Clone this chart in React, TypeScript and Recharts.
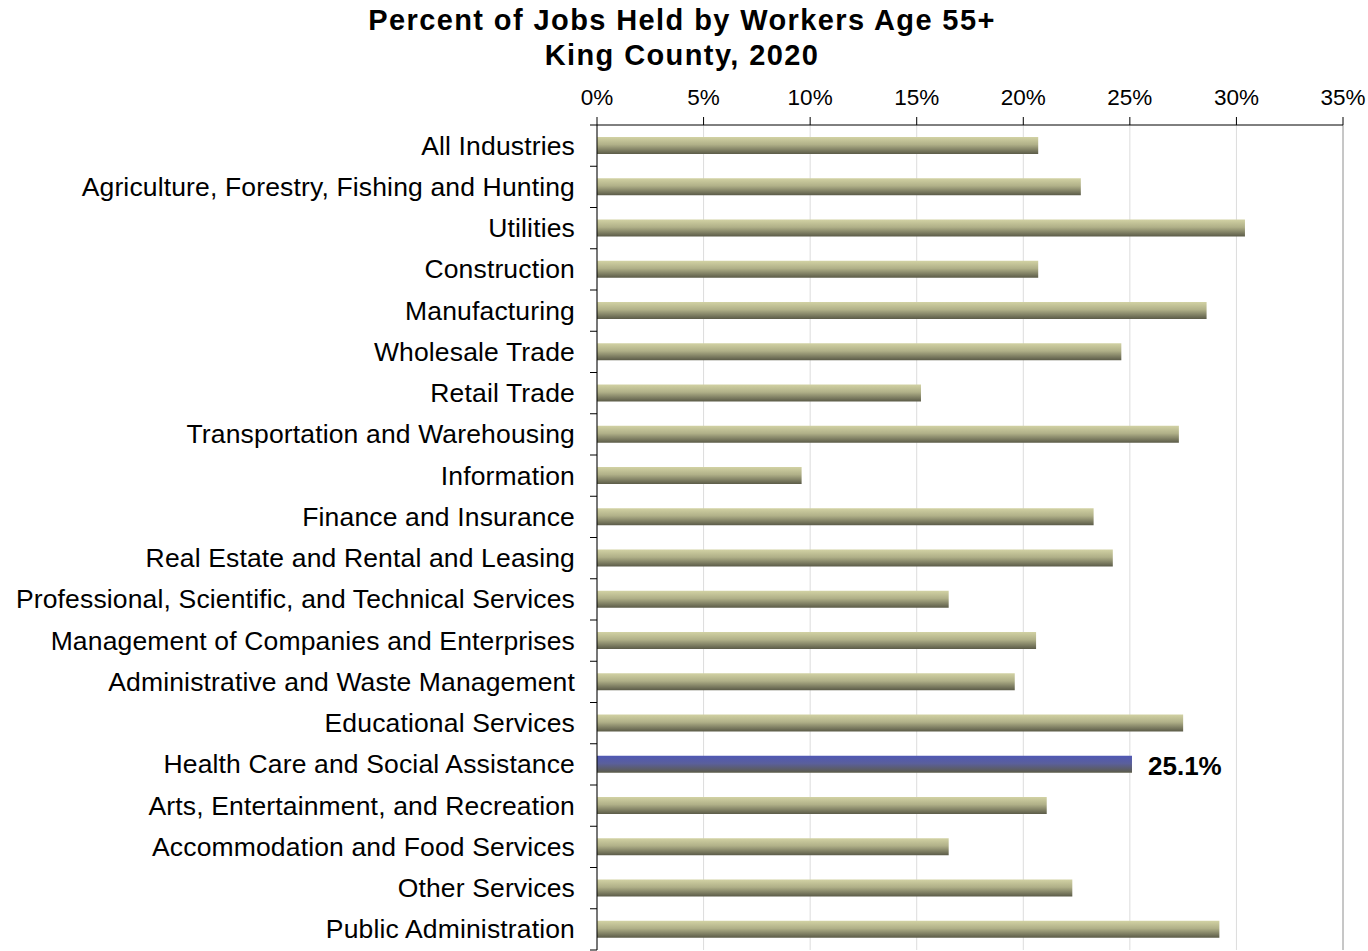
import { Bar, BarChart, CartesianGrid, Cell, LabelList, ReferenceLine, XAxis, YAxis } from "recharts";

const industries = [
  "All Industries",
  "Agriculture, Forestry, Fishing and Hunting",
  "Utilities",
  "Construction",
  "Manufacturing",
  "Wholesale Trade",
  "Retail Trade",
  "Transportation and Warehousing",
  "Information",
  "Finance and Insurance",
  "Real Estate and Rental and Leasing",
  "Professional, Scientific, and Technical Services",
  "Management of Companies and Enterprises",
  "Administrative and Waste Management",
  "Educational Services",
  "Health Care and Social Assistance",
  "Arts, Entertainment, and Recreation",
  "Accommodation and Food Services",
  "Other Services",
  "Public Administration",
];

const pctAge55 = [
  20.7, 22.7, 30.4, 20.7, 28.6, 24.6, 15.2, 27.3, 9.6, 23.3, 24.2, 16.5, 20.6, 19.6, 27.5, 25.1,
  21.1, 16.5, 22.3, 29.2,
];

const highlighted = "Health Care and Social Assistance";
const xTicks = [0, 5, 10, 15, 20, 25, 30, 35];

const data = industries.map((name, i) => ({ name, value: pctAge55[i] }));

const FONT = "'Liberation Sans', Arial, sans-serif";
const AXIS_X = 597;
const BAND = 825 / industries.length;

function CategoryTick(props: any) {
  const { y, payload } = props;
  return (
    <g>
      <line x1={AXIS_X - 7} x2={AXIS_X} y1={y + BAND / 2} y2={y + BAND / 2} stroke="#000" />
      {payload.index === 0 && (
        <line x1={AXIS_X - 7} x2={AXIS_X} y1={y - BAND / 2} y2={y - BAND / 2} stroke="#000" />
      )}
      <text
        x={AXIS_X - 22}
        y={y + 9}
        textAnchor="end"
        fontSize={26.5}
        letterSpacing={0.15}
        fill="#000"
        fontFamily={FONT}
      >
        {payload.value}
      </text>
    </g>
  );
}

function ValueLabel(props: any) {
  const { x, y, width, height, index } = props;
  if (industries[index] !== highlighted) return null;
  return (
    <text
      x={x + width + 16}
      y={y + height / 2 + 11}
      fontSize={26}
      fontWeight="bold"
      fill="#000"
      fontFamily={FONT}
    >
      {pctAge55[index].toFixed(1)}%
    </text>
  );
}

export default function App() {
  return (
    <div style={{ position: "absolute", left: 0, top: 0, width: 1368, height: 951, background: "#fff" }}>
      <svg width={1368} height={80} style={{ position: "absolute", left: 0, top: 0 }}>
        <text x={682} y={30} textAnchor="middle" fontSize={29} fontWeight="bold" letterSpacing={1.4} fontFamily={FONT}>
          Percent of Jobs Held by Workers Age 55+
        </text>
        <text x={682} y={65} textAnchor="middle" fontSize={29} fontWeight="bold" letterSpacing={1.4} fontFamily={FONT}>
          King County, 2020
        </text>
      </svg>
      <BarChart
        width={1368}
        height={951}
        data={data}
        layout="vertical"
        margin={{ top: 85, right: 25, left: 0, bottom: 1 }}
        style={{ position: "absolute", left: 0, top: 0 }}
      >
        <defs>
          <linearGradient id="oliveBar" x1="0" y1="0" x2="0" y2="1">
            <stop offset="0%" stopColor="#d2d2a4" />
            <stop offset="45%" stopColor="#b0b088" />
            <stop offset="100%" stopColor="#5b5b48" />
          </linearGradient>
          <linearGradient id="blueBar" x1="0" y1="0" x2="0" y2="1">
            <stop offset="0%" stopColor="#5058b4" />
            <stop offset="45%" stopColor="#5a5f9c" />
            <stop offset="100%" stopColor="#5b5b48" />
          </linearGradient>
        </defs>
        <CartesianGrid horizontal={false} stroke="#dcdcdc" />
        <XAxis
          type="number"
          orientation="top"
          domain={[0, 35]}
          ticks={xTicks}
          tickFormatter={(v: number) => `${v}%`}
          height={40}
          tickSize={8}
          tickMargin={12}
          stroke="#000"
          tick={{ fill: "#000", fontSize: 22.5, fontFamily: FONT }}
          interval={0}
        />
        <YAxis
          type="category"
          dataKey="name"
          width={AXIS_X}
          tickLine={false}
          stroke="#000"
          interval={0}
          tick={<CategoryTick />}
        />
        <ReferenceLine x={35} stroke="#a0a0a0" />
        <Bar dataKey="value" barSize={17} isAnimationActive={false}>
          {data.map((d) => (
            <Cell key={d.name} fill={d.name === highlighted ? "url(#blueBar)" : "url(#oliveBar)"} />
          ))}
          <LabelList dataKey="value" content={<ValueLabel />} />
        </Bar>
      </BarChart>
    </div>
  );
}
